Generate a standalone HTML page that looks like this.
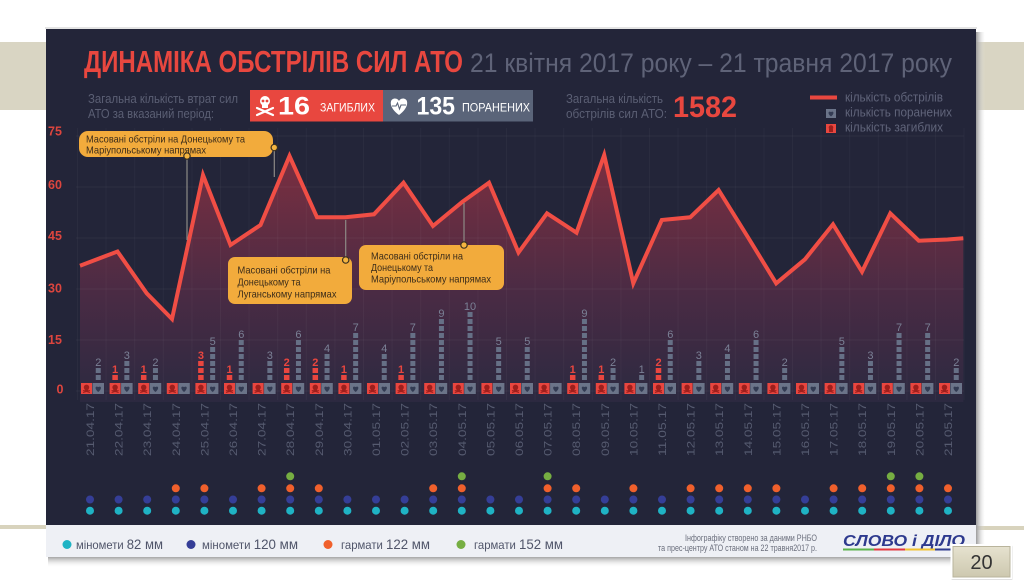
<!DOCTYPE html>
<html><head><meta charset="utf-8"><style>
html,body{margin:0;padding:0;background:#fff;}
svg{display:block;font-family:"Liberation Sans","DejaVu Sans",sans-serif;}
</style></head><body>
<svg width="1024" height="588" viewBox="0 0 1024 588" xmlns="http://www.w3.org/2000/svg">
<defs>
<linearGradient id="area" x1="0" y1="150" x2="0" y2="410" gradientUnits="userSpaceOnUse">
<stop offset="0" stop-color="#7e2f40"/><stop offset="0.55" stop-color="#4a2b44"/><stop offset="1" stop-color="#292940"/>
</linearGradient>
<linearGradient id="shR" x1="0" y1="0" x2="1" y2="0"><stop offset="0" stop-color="#9a9a9a"/><stop offset="1" stop-color="#e6e6e6" stop-opacity="0"/></linearGradient>
<linearGradient id="shB" x1="0" y1="0" x2="0" y2="1"><stop offset="0" stop-color="#a5a5a5"/><stop offset="1" stop-color="#f2f2f2" stop-opacity="0"/></linearGradient>
<linearGradient id="pg" x1="0" y1="0" x2="0" y2="1"><stop offset="0" stop-color="#e6e2cf"/><stop offset="1" stop-color="#cdc8af"/></linearGradient>
<g id="pair">
<rect x="-11.5" y="383" width="11" height="11" fill="#e9463f"/>
<circle cx="-6" cy="387.3" r="2.7" fill="#9e1f1c"/>
<rect x="-7.8" y="388.5" width="3.6" height="2.5" fill="#9e1f1c"/>
<path d="M-9.5 392.5 L-2.5 390.5 M-9.5 390.5 L-2.5 392.5" stroke="#9e1f1c" stroke-width="1"/>
<rect x="0" y="383" width="11.5" height="11" fill="#6b7489"/>
<path d="M5.75 392 C2 389 2.3 385.3 5.75 387 C9.2 385.3 9.5 389 5.75 392 Z" fill="#333b53"/>
</g>
</defs>

<!-- slide decorations -->
<rect x="0" y="42" width="46" height="68" fill="#d9d5c3"/>
<rect x="976" y="42" width="48" height="68" fill="#d9d5c3"/>
<rect x="0" y="525" width="46" height="4" fill="#d8d3bd"/>
<rect x="976" y="526" width="48" height="4" fill="#d8d3bd"/>
<rect x="976" y="32" width="9" height="528" fill="url(#shR)"/>
<rect x="48" y="557" width="936" height="10" fill="url(#shB)"/>
<rect x="45" y="27" width="932" height="2" fill="#e4e4e4"/>

<!-- panel -->
<rect x="46" y="29" width="930" height="496" fill="#232539"/>
<rect x="46" y="525" width="930" height="32" fill="#eef0f5"/>

<!-- header -->
<text x="84" y="72" font-size="31" font-weight="bold" fill="#e8473f" textLength="379" lengthAdjust="spacingAndGlyphs">ДИНАМІКА ОБСТРІЛІВ СИЛ АТО</text>
<text x="470" y="72" font-size="27" fill="#5f6378" textLength="482" lengthAdjust="spacingAndGlyphs">21 квітня 2017 року – 21 травня 2017 року</text>

<text x="88" y="103" font-size="12.5" fill="#5b5f74" textLength="150" lengthAdjust="spacingAndGlyphs">Загальна кількість втрат сил</text>
<text x="88" y="118" font-size="12.5" fill="#5b5f74" textLength="126" lengthAdjust="spacingAndGlyphs">АТО за вказаний період:</text>

<rect x="250" y="90" width="133" height="31.5" fill="#e8473f"/>
<rect x="383" y="90" width="150" height="31.5" fill="#5a6479"/>
<!-- skull -->
<circle cx="265" cy="101" r="5" fill="#fff"/>
<rect x="262" y="104" width="6" height="4" fill="#fff"/>
<circle cx="263" cy="101" r="1.4" fill="#e8473f"/><circle cx="267" cy="101" r="1.4" fill="#e8473f"/>
<path d="M257 108 L273 115 M257 115 L273 108" stroke="#fff" stroke-width="2.2" stroke-linecap="round"/>
<text x="278" y="114.5" font-size="25" font-weight="bold" fill="#fff" textLength="32" lengthAdjust="spacingAndGlyphs">16</text>
<text x="320" y="111.5" font-size="12" fill="#fff" textLength="55" lengthAdjust="spacingAndGlyphs">ЗАГИБЛИХ</text>
<!-- heart -->
<path d="M399 115 C389 108 389 99 394.5 98.5 C397 98.3 398.5 100 399 101 C399.5 100 401 98.3 403.5 98.5 C409 99 409 108 399 115 Z" fill="#fff"/>
<path d="M392 106 L396 106 L397.5 103 L399.5 109 L401 105 L406 105" stroke="#5a6479" stroke-width="1.1" fill="none"/>
<text x="416.5" y="114.5" font-size="25" font-weight="bold" fill="#fff" textLength="38.5" lengthAdjust="spacingAndGlyphs">135</text>
<text x="462" y="111.5" font-size="12" fill="#fff" textLength="68" lengthAdjust="spacingAndGlyphs">ПОРАНЕНИХ</text>

<text x="566" y="103" font-size="12.5" fill="#5b5f74" textLength="97" lengthAdjust="spacingAndGlyphs">Загальна кількість</text>
<text x="566" y="118" font-size="12.5" fill="#5b5f74" textLength="101" lengthAdjust="spacingAndGlyphs">обстрілів сил АТО:</text>
<text x="673" y="117" font-size="30" font-weight="bold" fill="#e8473f" textLength="64" lengthAdjust="spacingAndGlyphs">1582</text>

<line x1="810" y1="97.5" x2="837" y2="97.5" stroke="#e8473f" stroke-width="4"/>
<text x="845" y="101.5" font-size="12.5" fill="#60647a" textLength="98" lengthAdjust="spacingAndGlyphs">кількість обстрілів</text>
<rect x="826" y="109" width="10" height="9" fill="#6b7489"/>
<path d="M831 116.5 C827.5 114 828 110.5 831 112 C834 110.5 834.5 114 831 116.5Z" fill="#333b53"/>
<text x="845" y="116.5" font-size="12.5" fill="#60647a" textLength="107" lengthAdjust="spacingAndGlyphs">кількість поранених</text>
<rect x="826" y="124" width="10" height="9" fill="#e8473f"/>
<circle cx="831" cy="127.5" r="2.3" fill="#9e1f1c"/><rect x="829" y="129" width="4" height="3" fill="#9e1f1c"/>
<text x="845" y="131.5" font-size="12.5" fill="#60647a" textLength="98" lengthAdjust="spacingAndGlyphs">кількість загиблих</text>

<!-- y axis labels -->
<g font-size="12.5" font-weight="bold" fill="#dc453e">
<text x="48" y="135.5">75</text>
<text x="48" y="189">60</text>
<text x="48" y="240">45</text>
<text x="48" y="292.5">30</text>
<text x="48" y="344">15</text>
<text x="56.5" y="393.5">0</text>
</g>

<!-- area + line -->
<path d="M80,265.7 L117.5,251.5 L146.7,293.3 L172,319 L203,175 L230.5,245 L260.5,225 L289.5,156 L317,217.3 L345.5,217.3 L374,214.3 L403.5,182.7 L433,226 L462.5,201.7 L489,182.7 L518.5,252.5 L547,213.3 L576.5,232.7 L604.2,155 L633.3,283.3 L661.8,220 L690.2,217.3 L718.6,190 L747.5,236.5 L776.2,283.3 L805,259.3 L833,224.3 L862,271.7 L890.3,213.3 L918.8,240.7 L947.5,239.5 L963.3,238.3 L963.3,402 L80,402 Z" fill="url(#area)"/>

<!-- grid -->
<g stroke="#ffffff" stroke-opacity="0.045" stroke-width="1">
<line x1="76" y1="136" x2="964" y2="136"/><line x1="76" y1="187" x2="964" y2="187"/>
<line x1="76" y1="238" x2="964" y2="238"/><line x1="76" y1="289" x2="964" y2="289"/>
<line x1="76" y1="340" x2="964" y2="340"/><line x1="76" y1="391" x2="964" y2="391"/>
</g>
<line x1="77.5" y1="128" x2="964" y2="128" stroke="#ffffff" stroke-opacity="0.04" stroke-width="272" stroke-dasharray="1 27.6" transform="translate(0,136) scale(1,1)" style="display:none"/>
<g stroke="#ffffff" stroke-opacity="0.035">
<path d="M77.5 128V400M106.1 128V400M134.7 128V400M163.3 128V400M191.9 128V400M220.5 128V400M249.1 128V400M277.7 128V400M306.3 128V400M334.9 128V400M363.5 128V400M392.1 128V400M420.7 128V400M449.3 128V400M477.9 128V400M506.5 128V400M535.1 128V400M563.7 128V400M592.3 128V400M620.9 128V400M649.5 128V400M678.1 128V400M706.7 128V400M735.3 128V400M763.9 128V400M792.5 128V400M821.1 128V400M849.7 128V400M878.3 128V400M906.9 128V400M935.5 128V400M964.1 128V400"/>
</g>

<polyline points="80,265.7 117.5,251.5 146.7,293.3 172,319 203,175 230.5,245 260.5,225 289.5,156 317,217.3 345.5,217.3 374,214.3 403.5,182.7 433,226 462.5,201.7 489,182.7 518.5,252.5 547,213.3 576.5,232.7 604.2,155 633.3,283.3 661.8,220 690.2,217.3 718.6,190 747.5,236.5 776.2,283.3 805,259.3 833,224.3 862,271.7 890.3,213.3 918.8,240.7 947.5,239.5 963.3,238.3" fill="none" stroke="#f04e45" stroke-width="4" stroke-linejoin="miter" stroke-miterlimit="4"/>

<!-- annotations -->
<g stroke="#8d8a86" stroke-width="1.2">
<line x1="187" y1="158" x2="187" y2="240"/>
<line x1="274.3" y1="151" x2="274.3" y2="177"/>
<line x1="345.7" y1="257" x2="345.7" y2="220"/>
<line x1="464" y1="242" x2="464" y2="203"/>
</g>
<rect x="79" y="131" width="194" height="26" rx="9" fill="#f2ab3c"/>
<rect x="228" y="257" width="124" height="47" rx="7" fill="#f2ab3c"/>
<rect x="359" y="245" width="145" height="45" rx="7" fill="#f2ab3c"/>
<g fill="#f4b440" stroke="#3a3020" stroke-width="1.2">
<circle cx="187" cy="156" r="3.2"/><circle cx="274.3" cy="147.5" r="3.2"/>
<circle cx="345.7" cy="260" r="3.2"/><circle cx="464" cy="245" r="3.2"/>
</g>
<g font-size="10.5" fill="#3b2c1a">
<text x="86" y="142.5" textLength="159" lengthAdjust="spacingAndGlyphs">Масовані обстріли на Донецькому та</text>
<text x="86" y="153.5" textLength="120" lengthAdjust="spacingAndGlyphs">Маріупольському напрямах</text>
<text x="237.5" y="273.5" textLength="93" lengthAdjust="spacingAndGlyphs">Масовані обстріли на</text>
<text x="237.5" y="285.5" textLength="63" lengthAdjust="spacingAndGlyphs">Донецькому та</text>
<text x="237.5" y="297.5" textLength="99" lengthAdjust="spacingAndGlyphs">Луганському напрямах</text>
<text x="371" y="259.5" textLength="92" lengthAdjust="spacingAndGlyphs">Масовані обстріли на</text>
<text x="371" y="271" textLength="62" lengthAdjust="spacingAndGlyphs">Донецькому та</text>
<text x="371" y="282.5" textLength="120" lengthAdjust="spacingAndGlyphs">Маріупольському напрямах</text>
</g>

<!-- bar icons -->
<use href="#pair" x="92.5"/><use href="#pair" x="121.1"/><use href="#pair" x="149.7"/><use href="#pair" x="178.3"/>
<use href="#pair" x="206.9"/><use href="#pair" x="235.5"/><use href="#pair" x="264.1"/><use href="#pair" x="292.7"/>
<use href="#pair" x="321.3"/><use href="#pair" x="349.9"/><use href="#pair" x="378.5"/><use href="#pair" x="407.1"/>
<use href="#pair" x="435.7"/><use href="#pair" x="464.3"/><use href="#pair" x="492.9"/><use href="#pair" x="521.5"/>
<use href="#pair" x="550.1"/><use href="#pair" x="578.7"/><use href="#pair" x="607.3"/><use href="#pair" x="635.9"/>
<use href="#pair" x="664.5"/><use href="#pair" x="693.1"/><use href="#pair" x="721.7"/><use href="#pair" x="750.3"/>
<use href="#pair" x="778.9"/><use href="#pair" x="807.5"/><use href="#pair" x="836.1"/><use href="#pair" x="864.7"/>
<use href="#pair" x="893.3"/><use href="#pair" x="921.9"/><use href="#pair" x="950.5"/>

<!-- wounded columns -->
<g stroke="#667086" stroke-width="5" stroke-dasharray="5 2">
<line x1="98.25" y1="380" x2="98.25" y2="368"/>
<line x1="126.85" y1="380" x2="126.85" y2="361"/>
<line x1="155.45" y1="380" x2="155.45" y2="368"/>
<line x1="212.65" y1="380" x2="212.65" y2="347"/>
<line x1="241.25" y1="380" x2="241.25" y2="340"/>
<line x1="269.85" y1="380" x2="269.85" y2="361"/>
<line x1="298.45" y1="380" x2="298.45" y2="340"/>
<line x1="327.05" y1="380" x2="327.05" y2="354"/>
<line x1="355.65" y1="380" x2="355.65" y2="333"/>
<line x1="384.25" y1="380" x2="384.25" y2="354"/>
<line x1="412.85" y1="380" x2="412.85" y2="333"/>
<line x1="441.45" y1="380" x2="441.45" y2="319"/>
<line x1="470.05" y1="380" x2="470.05" y2="312"/>
<line x1="498.65" y1="380" x2="498.65" y2="347"/>
<line x1="527.25" y1="380" x2="527.25" y2="347"/>
<line x1="584.45" y1="380" x2="584.45" y2="319"/>
<line x1="613.05" y1="380" x2="613.05" y2="368"/>
<line x1="641.65" y1="380" x2="641.65" y2="375"/>
<line x1="670.25" y1="380" x2="670.25" y2="340"/>
<line x1="698.85" y1="380" x2="698.85" y2="361"/>
<line x1="727.45" y1="380" x2="727.45" y2="354"/>
<line x1="756.05" y1="380" x2="756.05" y2="340"/>
<line x1="784.65" y1="380" x2="784.65" y2="368"/>
<line x1="841.85" y1="380" x2="841.85" y2="347"/>
<line x1="870.45" y1="380" x2="870.45" y2="361"/>
<line x1="899.05" y1="380" x2="899.05" y2="333"/>
<line x1="927.65" y1="380" x2="927.65" y2="333"/>
<line x1="956.25" y1="380" x2="956.25" y2="368"/>
</g>
<g font-size="11" fill="#7b8196" text-anchor="middle">
<text x="98.25" y="366">2</text><text x="126.85" y="359">3</text><text x="155.45" y="366">2</text>
<text x="212.65" y="345">5</text><text x="241.25" y="338">6</text><text x="269.85" y="359">3</text>
<text x="298.45" y="338">6</text><text x="327.05" y="352">4</text><text x="355.65" y="331">7</text>
<text x="384.25" y="352">4</text><text x="412.85" y="331">7</text><text x="441.45" y="317">9</text>
<text x="470.05" y="310">10</text><text x="498.65" y="345">5</text><text x="527.25" y="345">5</text>
<text x="584.45" y="317">9</text><text x="613.05" y="366">2</text><text x="641.65" y="373">1</text>
<text x="670.25" y="338">6</text><text x="698.85" y="359">3</text><text x="727.45" y="352">4</text>
<text x="756.05" y="338">6</text><text x="784.65" y="366">2</text><text x="841.85" y="345">5</text>
<text x="870.45" y="359">3</text><text x="899.05" y="331">7</text><text x="927.65" y="331">7</text>
<text x="956.25" y="366">2</text>
</g>
<!-- deaths columns -->
<g stroke="#e9463f" stroke-width="5.5" stroke-dasharray="5 2">
<line x1="115.1" y1="380" x2="115.1" y2="375"/>
<line x1="143.7" y1="380" x2="143.7" y2="375"/>
<line x1="200.9" y1="380" x2="200.9" y2="361"/>
<line x1="229.5" y1="380" x2="229.5" y2="375"/>
<line x1="286.7" y1="380" x2="286.7" y2="368"/>
<line x1="315.3" y1="380" x2="315.3" y2="368"/>
<line x1="343.9" y1="380" x2="343.9" y2="375"/>
<line x1="401.1" y1="380" x2="401.1" y2="375"/>
<line x1="572.7" y1="380" x2="572.7" y2="375"/>
<line x1="601.3" y1="380" x2="601.3" y2="375"/>
<line x1="658.5" y1="380" x2="658.5" y2="368"/>
</g>
<g font-size="11" font-weight="bold" fill="#e9463f" text-anchor="middle">
<text x="115.1" y="373">1</text><text x="143.7" y="373">1</text><text x="200.9" y="359">3</text>
<text x="229.5" y="373">1</text><text x="286.7" y="366">2</text><text x="315.3" y="366">2</text>
<text x="343.9" y="373">1</text><text x="401.1" y="373">1</text><text x="572.7" y="373">1</text>
<text x="601.3" y="373">1</text><text x="658.5" y="366">2</text>
</g>

<!-- date labels -->
<g font-size="11" fill="#565b70">
<text transform="translate(94,456) rotate(-90)" textLength="53" lengthAdjust="spacingAndGlyphs">21.04.17</text>
<text transform="translate(122.6,456) rotate(-90)" textLength="53" lengthAdjust="spacingAndGlyphs">22.04.17</text>
<text transform="translate(151.2,456) rotate(-90)" textLength="53" lengthAdjust="spacingAndGlyphs">23.04.17</text>
<text transform="translate(179.8,456) rotate(-90)" textLength="53" lengthAdjust="spacingAndGlyphs">24.04.17</text>
<text transform="translate(208.4,456) rotate(-90)" textLength="53" lengthAdjust="spacingAndGlyphs">25.04.17</text>
<text transform="translate(237,456) rotate(-90)" textLength="53" lengthAdjust="spacingAndGlyphs">26.04.17</text>
<text transform="translate(265.6,456) rotate(-90)" textLength="53" lengthAdjust="spacingAndGlyphs">27.04.17</text>
<text transform="translate(294.2,456) rotate(-90)" textLength="53" lengthAdjust="spacingAndGlyphs">28.04.17</text>
<text transform="translate(322.8,456) rotate(-90)" textLength="53" lengthAdjust="spacingAndGlyphs">29.04.17</text>
<text transform="translate(351.4,456) rotate(-90)" textLength="53" lengthAdjust="spacingAndGlyphs">30.04.17</text>
<text transform="translate(380,456) rotate(-90)" textLength="53" lengthAdjust="spacingAndGlyphs">01.05.17</text>
<text transform="translate(408.6,456) rotate(-90)" textLength="53" lengthAdjust="spacingAndGlyphs">02.05.17</text>
<text transform="translate(437.2,456) rotate(-90)" textLength="53" lengthAdjust="spacingAndGlyphs">03.05.17</text>
<text transform="translate(465.8,456) rotate(-90)" textLength="53" lengthAdjust="spacingAndGlyphs">04.05.17</text>
<text transform="translate(494.4,456) rotate(-90)" textLength="53" lengthAdjust="spacingAndGlyphs">05.05.17</text>
<text transform="translate(523,456) rotate(-90)" textLength="53" lengthAdjust="spacingAndGlyphs">06.05.17</text>
<text transform="translate(551.6,456) rotate(-90)" textLength="53" lengthAdjust="spacingAndGlyphs">07.05.17</text>
<text transform="translate(580.2,456) rotate(-90)" textLength="53" lengthAdjust="spacingAndGlyphs">08.05.17</text>
<text transform="translate(608.8,456) rotate(-90)" textLength="53" lengthAdjust="spacingAndGlyphs">09.05.17</text>
<text transform="translate(637.4,456) rotate(-90)" textLength="53" lengthAdjust="spacingAndGlyphs">10.05.17</text>
<text transform="translate(666,456) rotate(-90)" textLength="53" lengthAdjust="spacingAndGlyphs">11.05.17</text>
<text transform="translate(694.6,456) rotate(-90)" textLength="53" lengthAdjust="spacingAndGlyphs">12.05.17</text>
<text transform="translate(723.2,456) rotate(-90)" textLength="53" lengthAdjust="spacingAndGlyphs">13.05.17</text>
<text transform="translate(751.8,456) rotate(-90)" textLength="53" lengthAdjust="spacingAndGlyphs">14.05.17</text>
<text transform="translate(780.4,456) rotate(-90)" textLength="53" lengthAdjust="spacingAndGlyphs">15.05.17</text>
<text transform="translate(809,456) rotate(-90)" textLength="53" lengthAdjust="spacingAndGlyphs">16.05.17</text>
<text transform="translate(837.6,456) rotate(-90)" textLength="53" lengthAdjust="spacingAndGlyphs">17.05.17</text>
<text transform="translate(866.2,456) rotate(-90)" textLength="53" lengthAdjust="spacingAndGlyphs">18.05.17</text>
<text transform="translate(894.8,456) rotate(-90)" textLength="53" lengthAdjust="spacingAndGlyphs">19.05.17</text>
<text transform="translate(923.4,456) rotate(-90)" textLength="53" lengthAdjust="spacingAndGlyphs">20.05.17</text>
<text transform="translate(952,456) rotate(-90)" textLength="53" lengthAdjust="spacingAndGlyphs">21.05.17</text>
</g>

<!-- weapon dots -->
<line x1="90" y1="510.7" x2="949" y2="510.7" stroke="#1fb3c4" stroke-width="8" stroke-linecap="round" stroke-dasharray="0 28.6"/>
<line x1="90" y1="499.5" x2="949" y2="499.5" stroke="#353e97" stroke-width="8" stroke-linecap="round" stroke-dasharray="0 28.6"/>
<g fill="#f0602c">
<circle cx="175.8" cy="488.3" r="4"/><circle cx="204.4" cy="488.3" r="4"/><circle cx="261.6" cy="488.3" r="4"/>
<circle cx="290.2" cy="488.3" r="4"/><circle cx="318.8" cy="488.3" r="4"/><circle cx="433.2" cy="488.3" r="4"/>
<circle cx="461.8" cy="488.3" r="4"/><circle cx="547.6" cy="488.3" r="4"/><circle cx="576.2" cy="488.3" r="4"/>
<circle cx="633.4" cy="488.3" r="4"/><circle cx="690.6" cy="488.3" r="4"/><circle cx="719.2" cy="488.3" r="4"/>
<circle cx="747.8" cy="488.3" r="4"/><circle cx="776.4" cy="488.3" r="4"/><circle cx="833.6" cy="488.3" r="4"/>
<circle cx="862.2" cy="488.3" r="4"/><circle cx="890.8" cy="488.3" r="4"/><circle cx="919.4" cy="488.3" r="4"/>
<circle cx="948" cy="488.3" r="4"/>
</g>
<g fill="#76ae42">
<circle cx="290.2" cy="476.3" r="4"/><circle cx="461.8" cy="476.3" r="4"/><circle cx="547.6" cy="476.3" r="4"/>
<circle cx="890.8" cy="476.3" r="4"/><circle cx="919.4" cy="476.3" r="4"/>
</g>

<!-- footer legend -->
<circle cx="67" cy="544.5" r="4.5" fill="#1fb3c4"/>
<text x="76" y="549" font-size="12" fill="#50556a" textLength="87" lengthAdjust="spacingAndGlyphs">міномети <tspan font-size="14">82 мм</tspan></text>
<circle cx="191" cy="544.5" r="4.5" fill="#353e97"/>
<text x="202" y="549" font-size="12" fill="#50556a" textLength="96" lengthAdjust="spacingAndGlyphs">міномети <tspan font-size="14">120 мм</tspan></text>
<circle cx="328" cy="544.5" r="4.5" fill="#f0602c"/>
<text x="341" y="549" font-size="12" fill="#50556a" textLength="89" lengthAdjust="spacingAndGlyphs">гармати <tspan font-size="14">122 мм</tspan></text>
<circle cx="461" cy="544.5" r="4.5" fill="#76ae42"/>
<text x="474" y="549" font-size="12" fill="#50556a" textLength="89" lengthAdjust="spacingAndGlyphs">гармати <tspan font-size="14">152 мм</tspan></text>

<text x="817" y="541" font-size="9" fill="#6a6e7c" text-anchor="end" textLength="132" lengthAdjust="spacingAndGlyphs">Інфографіку створено за даними РНБО</text>
<text x="817" y="551" font-size="9" fill="#6a6e7c" text-anchor="end" textLength="159" lengthAdjust="spacingAndGlyphs">та прес-центру АТО станом на 22 травня2017 р.</text>

<text x="843" y="546" font-size="16" font-weight="bold" font-style="italic" fill="#2e3a8e" textLength="122" lengthAdjust="spacingAndGlyphs">СЛОВО і ДІЛО</text>
<rect x="843" y="548.5" width="31" height="2" fill="#5bb24a"/>
<rect x="874" y="548.5" width="31" height="2" fill="#e2383f"/>
<rect x="905" y="548.5" width="30" height="2" fill="#f2c230"/>
<rect x="935" y="548.5" width="30" height="2" fill="#2e3a8e"/>

<!-- page number -->
<rect x="951" y="545" width="62" height="35" fill="#000" opacity="0.12" rx="2"/>
<rect x="950.5" y="544" width="62" height="35" fill="#ffffff"/>
<rect x="953" y="546.5" width="57" height="30.5" fill="url(#pg)" stroke="#b9b49c" stroke-width="1"/>
<text x="981.5" y="569" font-size="20" fill="#333" text-anchor="middle">20</text>
</svg>
</body></html>
